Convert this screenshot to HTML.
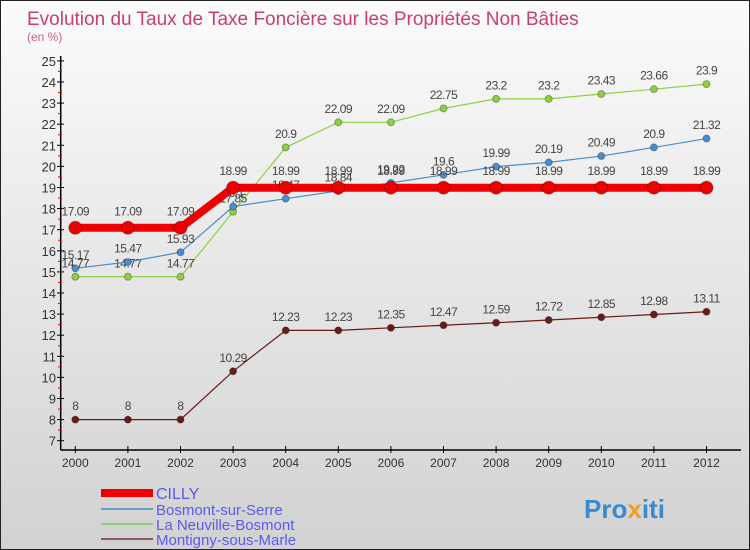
<!DOCTYPE html>
<html><head><meta charset="utf-8"><style>
body{margin:0}
#c{position:relative;width:748px;height:548px;border:1px solid #222;background:linear-gradient(#fbfbfb,#d2d2d2);font-family:"Liberation Sans",sans-serif;overflow:hidden}
svg text{font-family:"Liberation Sans",sans-serif}
</style></head><body>
<div id="c">
<svg id="s" width="748" height="548">
<text x="26" y="24" font-size="19" fill="#c8406a">Evolution du Taux de Taxe Foncière sur les Propriétés Non Bâties</text>
<text x="26" y="40" font-size="12" fill="#c8608a">(en %)</text>
<g id="ax"></g><g id="ser"></g>
<g>
<rect x="100" y="488" width="52" height="8" fill="#ee0000"/>
<text x="155" y="498" font-size="16" fill="#5a5aee">CILLY</text>
<rect x="100" y="507" width="52" height="2" fill="#6a9ec8"/>
<text x="155" y="514" font-size="15" fill="#5a5aee">Bosmont-sur-Serre</text>
<rect x="100" y="522" width="52" height="2" fill="#8ed070"/>
<text x="155" y="529" font-size="15" fill="#5a5aee">La Neuville-Bosmont</text>
<rect x="100" y="537" width="52" height="2" fill="#8a5a5a"/>
<text x="155" y="544" font-size="15" fill="#5a5aee">Montigny-sous-Marle</text>
</g>
<text x="583" y="517" font-size="26" font-weight="bold" fill="#3a8ad0">Pro<tspan fill="#f0a020">x</tspan>iti</text>
</svg></div>
<script>
const years=[2000,2001,2002,2003,2004,2005,2006,2007,2008,2009,2010,2011,2012];
const cilly=[17.09,17.09,17.09,18.99,18.99,18.99,18.99,18.99,18.99,18.99,18.99,18.99,18.99];
const bosmont=[15.17,15.47,15.93,18.1,18.47,18.84,19.22,19.6,19.99,20.19,20.49,20.9,21.32];
const neuville=[14.77,14.77,14.77,17.85,20.9,22.09,22.09,22.75,23.2,23.2,23.43,23.66,23.9];
const montigny=[8,8,8,10.29,12.23,12.23,12.35,12.47,12.59,12.72,12.85,12.98,13.11];
const yTicks=[7,8,9,10,11,12,13,14,15,16,17,18,19,20,21,22,23,24,25];
const NS="http://www.w3.org/2000/svg";
const X=i=>74.3+i*52.6, Y=v=>439.7-(v-7)*21.1;
function mk(p,t,a){const e=document.createElementNS(NS,t);for(const k in a)e.setAttribute(k,a[k]);p.appendChild(e);return e;}
const ax=document.getElementById('ax'),ser=document.getElementById('ser');
let e=mk(ax,'line',{x1:59.7,y1:55,x2:59.7,y2:449,stroke:'#000','stroke-width':1.5});


e=mk(ax,'line',{x1:59.7,y1:449,x2:740,y2:449,stroke:'#000','stroke-width':1.5});


yTicks.forEach(v=>{
 mk(ax,'line',{x1:56,x2:63,y1:Y(v),y2:Y(v),stroke:'#000'});
 if(v<25)mk(ax,'line',{x1:57,x2:61,y1:Y(v+0.5),y2:Y(v+0.5),stroke:'#e00'});
 const t=mk(ax,'text',{x:55,y:Y(v)+5,'text-anchor':'end','font-size':13,fill:'#333'});t.textContent=v;
 
 
});
years.forEach((y,i)=>{
 mk(ax,'line',{x1:X(i),x2:X(i),y1:445,y2:452,stroke:'#000'});
 const t=mk(ax,'text',{x:X(i),y:466,'text-anchor':'middle','font-size':12,fill:'#333'});t.textContent=y;
 
 
});
function series(vals,col,w,r,name){
 const g=mk(ser,'g',{});
 
 
 mk(g,'polyline',{points:vals.map((v,i)=>X(i)+','+Y(v)).join(' '),fill:'none',stroke:col,'stroke-width':w});
 vals.forEach((v,i)=>{
  const c=mk(g,'circle',{cx:X(i),cy:Y(v),r:r,fill:col,stroke:'rgba(0,0,0,0.3)'});
  
  
  const t=mk(g,'text',{x:X(i),y:Y(v)-(r+6),'text-anchor':'middle','font-size':12,fill:'#444','letter-spacing':'-0.5'});t.textContent=v;
  
  
 });
}
series(montigny,'#6a1a1a',1.2,3.5,'montigny');
series(neuville,'#8ed040',1.2,3.5,'neuville');
series(bosmont,'#4a8ed0',1.2,3.5,'bosmont');
series(cilly,'#ee0000',8,6.5,'cilly');
</script>
</body></html>
